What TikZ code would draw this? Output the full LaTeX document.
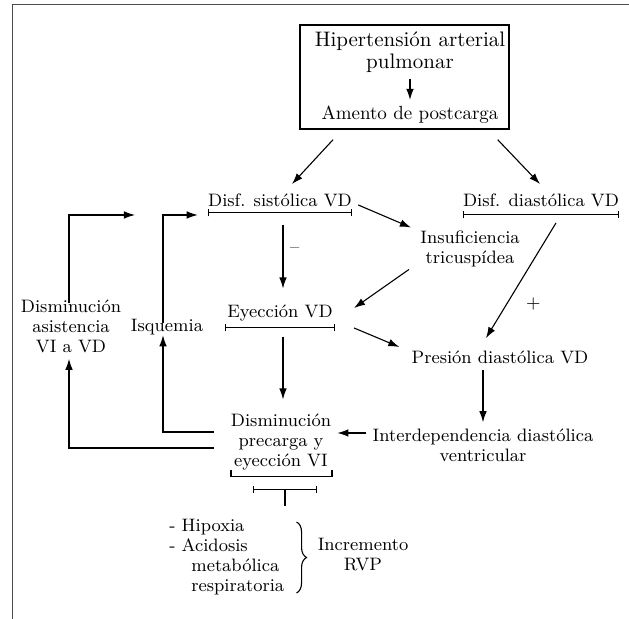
\documentclass[tikz,border=0pt]{standalone}
\usepackage{tikz}
\usetikzlibrary{arrows.meta, positioning, calc, decorations.pathreplacing}
\newcommand{\txtsize}{\fontsize{9}{10}\selectfont}
\tikzset{
  txtnode/.style={align=center, font=\txtsize, inner sep=3pt},
  arrow/.style={-{Latex[length=5.5pt,width=3.8pt]}, line width=0.55pt},
  stopbar/.style={{Bar[width=3.5pt]}-{Bar[width=3.5pt]}, line width=0.55pt},
  plainline/.style={line width=0.55pt},
}

\begin{document}
\begin{tikzpicture}[x=0.5pt, y=-0.5pt]
  \useasboundingbox (0,0) rectangle (629,619);
  % Frame
  \draw[gray!60!black, line width=0.6pt] (12.5,619) -- (12.5,4.5) -- (629,4.5);

  % Top box
  \node[draw, line width=0.75pt, minimum width=104.5pt, minimum height=52pt] (box) at (404.5,77) {};
  \node[txtnode, font=\fontsize{10.5}{11}\selectfont] (hip) at (410,52) {Hipertensión arterial\\pulmonar};
  \node[txtnode, font=\fontsize{9.5}{10}\selectfont] (amento) at (410,115) {Amento de postcarga};
  \draw[arrow] (hip) -- (amento);

  % Nodes
  \node[txtnode] (dsis) at (280,200) {Disf. sistólica VD};
  \node[txtnode] (ddia) at (541,200) {Disf. diastólica VD};
  \node[txtnode] (insuf) at (470,249) {Insuficiencia\\tricuspídea};
  \node[txtnode] (eyec) at (280,313) {Eyección VD};
  \node[txtnode] (pres) at (500,357) {Presión diastólica VD};
  \node[txtnode] (isq) at (167,327) {Isquemia};
  \node[txtnode] (dasis) at (71,326) {Disminución\\asistencia\\VI a VD};
  \node[txtnode] (dpre) at (281,442) {Disminución\\precarga y\\eyección VI};
  \node[txtnode] (inter) at (483,445) {Interdependencia diastólica\\ventricular};
  \node[txtnode, align=left, anchor=west] (hipox) at (163,557)
    {- Hipoxia\\- Acidosis\\\hspace{11pt}metabólica\\\hspace{11pt}respiratoria};
  \node[txtnode] (incr) at (363,555) {Incremento\\RVP};
  \coordinate (in1) at (135,215);

  % Bars and brackets
  \draw[stopbar] ([shift={(6,0)}]dsis.south west) -- ([shift={(-6,0)}]dsis.south east);
  \draw[stopbar] ([shift={(6,2)}]ddia.south west) -- ([shift={(-6,2)}]ddia.south east);
  \draw[stopbar] ([shift={(4,0)}]eyec.south west) -- ([shift={(-4,0)}]eyec.south east);
  \draw[plainline] ([shift={(-50,-7)}]dpre.south) -- ([shift={(-50,0)}]dpre.south)
    -- ([shift={(51,0)}]dpre.south) -- ([shift={(51,-7)}]dpre.south);
  \draw[stopbar] ([shift={(-28,13)}]dpre.south) -- ([shift={(36,13)}]dpre.south);
  \draw[plainline] ([shift={(4,13)}]dpre.south) -- ([shift={(4,29)}]dpre.south);
  \draw[plainline, decorate, decoration={brace, amplitude=5pt}]
    ([shift={(6,-35)}]hipox.east) -- ([shift={(6,36)}]hipox.east);

  % Connectors
  \draw[arrow] ([shift={(-71.5,10)}]box.south) -- ([shift={(12,-3)}]dsis.north);
  \draw[arrow] ([shift={(-12,10)}]box.south east) -- ([shift={(-1,-3)}]ddia.north);
  \draw[arrow] ([shift={(0,5)}]dsis.east) -- ([shift={(-3,3)}]insuf.north west);
  \draw[arrow] ([shift={(-5,-4)}]insuf.south west) -- ([shift={(15,-5)}]eyec.east);
  \draw[arrow] ([shift={(15,15)}]eyec.east) -- ([shift={(-6,-10)}]pres.west);
  \draw[arrow] ([shift={(15,10)}]ddia.south) -- node[pos=0.7, right=6pt, font=\txtsize] {+}
    ([shift={(-14,-6)}]pres.north);
  \draw[arrow, shorten <=6pt, shorten >=5pt] ([shift={(3,0)}]dsis.south) --
    node[pos=0.43, right, font=\txtsize] {\textendash} ([shift={(3,0)}]eyec.north);
  \draw[arrow, shorten <=4.5pt, shorten >=4pt] ([shift={(3,0)}]eyec.south) -- ([shift={(2,0)}]dpre.north);
  \draw[arrow] (pres.south -| inter.north) -- (inter.north);
  \draw[arrow] ([shift={(0,-12)}]inter.west) -- ([shift={(0,-12)}]inter.west -| dpre.east);
  \draw[arrow, shorten >=-3pt] ([shift={(-11,-10)}]dpre.west) -| ([shift={(-4,0)}]isq.south);
  \draw[arrow] ([shift={(-11,6)}]dpre.west) -| ([shift={(-2,0)}]dasis.south);
  \draw[arrow, shorten <=-5pt] ([shift={(-4,0)}]isq.north) |- ([shift={(-4,15)}]dsis.west);
  \draw[arrow, shorten <=-5pt] ([shift={(-2,0)}]dasis.north) |- (in1);
\end{tikzpicture}
\end{document}
